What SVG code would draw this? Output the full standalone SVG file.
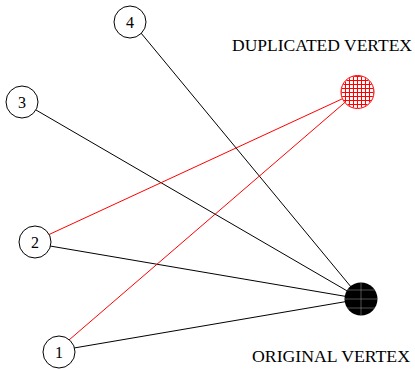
<svg xmlns="http://www.w3.org/2000/svg" width="415" height="370" viewBox="0 0 415 370">
<style>
.node{fill:#fff;stroke:#000;stroke-width:1}
.lbl{font-family:"Liberation Serif",serif;font-size:16px;text-anchor:middle;fill:#000}
.cap{font-family:"Liberation Serif",serif;font-size:16px;fill:#000}
.blk{stroke:#000;stroke-width:1;fill:none}
.red{stroke:#f00;stroke-width:1;fill:none}
</style>
<defs>
<pattern id="grid" width="4" height="4" patternUnits="userSpaceOnUse" x="341" y="76">
<path d="M0 0.5H4M0.5 0V4" stroke="#f00" stroke-width="1"/>
</pattern>
<clipPath id="oc"><circle cx="361" cy="299" r="16.5"/></clipPath>
</defs>
<rect width="415" height="370" fill="#fff"/>
<g id="connectors">
<line class="blk" x1="141" y1="33" x2="361" y2="299"/>
<line class="blk" x1="36" y1="110" x2="361" y2="299"/>
<line class="blk" x1="50" y1="246" x2="361" y2="299"/>
<line class="blk" x1="74" y1="348" x2="361" y2="299"/>
<line class="red" x1="48" y1="235" x2="357" y2="92"/>
<line class="red" x1="69" y1="340" x2="357" y2="92"/>
</g>
<g id="n4"><circle class="node" cx="130" cy="22" r="16"/><text class="lbl" x="130" y="27.5">4</text></g>
<g id="n3"><circle class="node" cx="22" cy="102" r="16"/><text class="lbl" x="22" y="107.5">3</text></g>
<g id="n2"><circle class="node" cx="35" cy="242" r="16"/><text class="lbl" x="35" y="247.5">2</text></g>
<g id="n1"><circle class="node" cx="59" cy="352" r="16"/><text class="lbl" x="59" y="357.5">1</text></g>
<g id="dup"><circle cx="357.5" cy="92" r="16.5" fill="#fff" stroke="#f00" stroke-width="1"/><circle cx="357.5" cy="92" r="16" fill="url(#grid)"/><text class="cap" x="232" y="50.5" textLength="180" lengthAdjust="spacingAndGlyphs">DUPLICATED VERTEX</text></g>
<g id="orig"><circle cx="361" cy="299" r="16.5" fill="#000"/><g clip-path="url(#oc)" stroke="#888" stroke-width="0.6"><line x1="340" y1="290" x2="382" y2="290"/><line x1="340" y1="299" x2="382" y2="299"/><line x1="340" y1="308" x2="382" y2="308"/><line x1="361" y1="280" x2="361" y2="318"/></g><text class="cap" x="252" y="361.5" textLength="158" lengthAdjust="spacingAndGlyphs">ORIGINAL VERTEX</text></g>
</svg>
